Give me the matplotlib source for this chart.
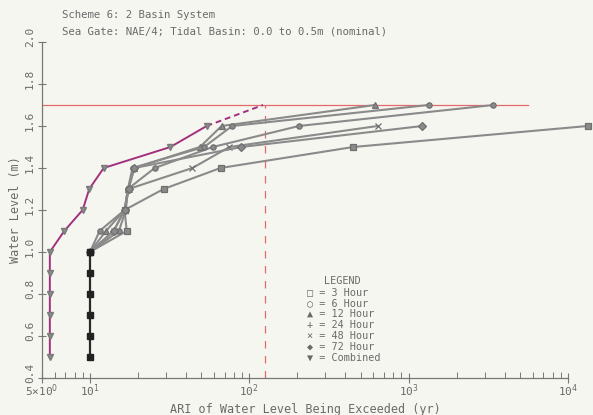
import numpy as np
import matplotlib

matplotlib.use("Agg")
import matplotlib.pyplot as plt  # noqa: E402
import matplotlib.transforms as mtrans  # noqa: E402
from matplotlib.ticker import FixedLocator, NullFormatter  # noqa: E402

# ---- data ------------------------------------------------------------------
low_levels = [0.5, 0.6, 0.7, 0.8, 0.9, 1.0]
low_ari = [10, 10, 10, 10, 10, 10]

hr3_level = [1.0, 1.1, 1.2, 1.3, 1.4, 1.5, 1.6]
hr3_ari = [10, 17.0, 16.5, 29, 66, 450, 13300]
hr6_level = [1.0, 1.1, 1.2, 1.3, 1.4, 1.5, 1.6, 1.7]
hr6_ari = [10, 15.2, 16.8, 17.3, 25.5, 59, 205, 3400]
hr12_level = [1.0, 1.1, 1.2, 1.3, 1.4, 1.5, 1.6, 1.7]
hr12_ari = [10, 12.6, 16.5, 17.3, 19, 49, 67, 615]
hr24_level = [1.0, 1.1, 1.2, 1.3, 1.4, 1.5, 1.6, 1.7]
hr24_ari = [10, 11.5, 16.5, 17.3, 18.5, 52, 78, 1334]
hr48_level = [1.0, 1.1, 1.2, 1.3, 1.4, 1.5, 1.6]
hr48_ari = [10, 14.1, 16.5, 17.5, 44, 75, 640]
hr72_level = [1.0, 1.1, 1.2, 1.3, 1.4, 1.5, 1.6]
hr72_ari = [10, 14.1, 16.5, 17.5, 19, 89, 1220]

comb_level = [0.5, 0.6, 0.7, 0.8, 0.9, 1.0, 1.1, 1.2, 1.3, 1.4, 1.5, 1.6]
comb_ari = [5.6, 5.6, 5.6, 5.6, 5.6, 5.6, 6.9, 9.0, 9.9, 12.2, 32, 54]
comb_ext_level = [1.6, 1.7]
comb_ext_ari = [54, 122]

design_level = 1.7
design_ari = 125
design_line_end = 5600

legend_labels = ["3 Hour", "6 Hour", "12 Hour", "24 Hour", "48 Hour", "72 Hour", "Combined"]
legend_symbols = ["\u25a1", "\u25cb", "\u25b2", "+", "\u00d7", "\u25c6", "\u25bc"]

# ---- style -----------------------------------------------------------------
BG = "#f6f6f1"
TXT = "#6a6a6a"
GREY = "#8a8a8a"
MAG = "#a2307e"
RED = "#e36a6a"
FONT = "DejaVu Sans Mono"

plt.rcParams["font.family"] = FONT
plt.rcParams["mathtext.fontset"] = "dejavusans"

fig = plt.figure(figsize=(5.93, 4.15), dpi=100, facecolor=BG)
ax = fig.add_axes([0.0708, 0.0892, 0.887, 0.8096])
ax.set_facecolor(BG)
ax.set_xscale("log")
ax.set_xlim(5, 1e4)
ax.set_ylim(0.4, 2.0)

series = [
    (hr3_ari, hr3_level, "s"),
    (hr6_ari, hr6_level, "o"),
    (hr12_ari, hr12_level, "^"),
    (hr24_ari, hr24_level, "o"),
    (hr48_ari, hr48_level, "x"),
    (hr72_ari, hr72_level, "D"),
]
for xs, ys, mk in series:
    ax.plot(xs, ys, color=GREY, lw=1.5, marker=mk, ms=3.8, mfc=GREY,
            mec="#6f6f6f", mew=0.9, clip_on=False, zorder=3)

ax.plot(low_ari, low_levels, color="#2a2a2a", lw=1.6, marker="s", ms=4.5,
        mfc="#222222", mec="#222222", zorder=4)

ax.plot(comb_ari, comb_level, color=MAG, lw=1.4, zorder=5)
ax.plot(comb_ari, comb_level, ls="none", marker="v", ms=3.8, color=GREY,
        mec="#7a7a7a", zorder=6)
ax.plot(comb_ext_ari, comb_ext_level, color=MAG, lw=1.4, ls=(0, (3, 2)), zorder=5)

ax.plot([5, design_line_end], [design_level, design_level], color=RED, lw=0.9, zorder=2)
ax.plot([design_ari, design_ari], [0.4, design_level], color=RED, lw=0.9,
        ls=(0, (6, 6)), zorder=2)

# ---- axes ------------------------------------------------------------------
for s in ("top", "right"):
    ax.spines[s].set_visible(False)
for s in ("left", "bottom"):
    ax.spines[s].set_color("#777777")
    ax.spines[s].set_linewidth(0.9)

ax.xaxis.set_major_locator(FixedLocator([5, 10, 100, 1000, 10000]))
ax.set_xticklabels(["5\u00d710$^0$", "10$^1$", "10$^2$", "10$^3$", "10$^4$"])
minor = [m * 10 ** d for d in range(0, 4) for m in range(2, 10) if 5 < m * 10 ** d < 1e4]
ax.xaxis.set_minor_locator(FixedLocator(minor))
ax.xaxis.set_minor_formatter(NullFormatter())
ax.tick_params(axis="x", which="major", direction="inout", length=7, width=0.8,
               colors="#777777", labelcolor=TXT, labelsize=8, pad=0)
ax.tick_params(axis="x", which="minor", direction="in", length=4, width=0.7,
               colors="#777777")

ax.set_yticks(np.arange(0.4, 2.01, 0.2))
ax.set_yticklabels([f"{v:.1f}" for v in np.arange(0.4, 2.01, 0.2)], rotation=90,
                   va="center")
ax.tick_params(axis="y", direction="inout", length=6, width=0.8, colors="#777777",
               labelcolor=TXT, labelsize=8, pad=2)
# labels in the original sit a little above their ticks
shift = mtrans.ScaledTranslation(0, 5 / 100, fig.dpi_scale_trans)
for lab in ax.get_yticklabels():
    lab.set_transform(lab.get_transform() + shift)

ax.set_xlabel("ARI of Water Level Being Exceeded (yr)", color=TXT, fontsize=8.5)
ax.xaxis.set_label_coords((305 - 42) / 526, -(403 - 378) / 336)
ax.set_ylabel("Water Level (m)", color=TXT, fontsize=8.5)
ax.yaxis.set_label_coords(-(42 - 22) / 526, (378 - 210) / 336)

# ---- header + hand-drawn style legend ---------------------------------------
fig.text(62 / 593, 1 - 15 / 415, "Scheme 6: 2 Basin System", color=TXT,
         fontsize=7.7, va="center")
fig.text(62 / 593, 1 - 31 / 415, "Sea Gate: NAE/4; Tidal Basin: 0.0 to 0.5m (nominal)",
         color=TXT, fontsize=7.7, va="center")

fig.text(342 / 593, 1 - 281 / 415, "LEGEND", color=TXT, fontsize=7.3,
         ha="center", va="center")
for i, (sym, lab) in enumerate(zip(legend_symbols, legend_labels)):
    y = 1 - (292 + i * 11) / 415
    fig.text(307 / 593, y, f"{sym} = {lab}", color=TXT, fontsize=7.3, va="center",
             family=[FONT, "DejaVu Sans"])

fig.savefig("out.png", dpi=100, facecolor=BG)
